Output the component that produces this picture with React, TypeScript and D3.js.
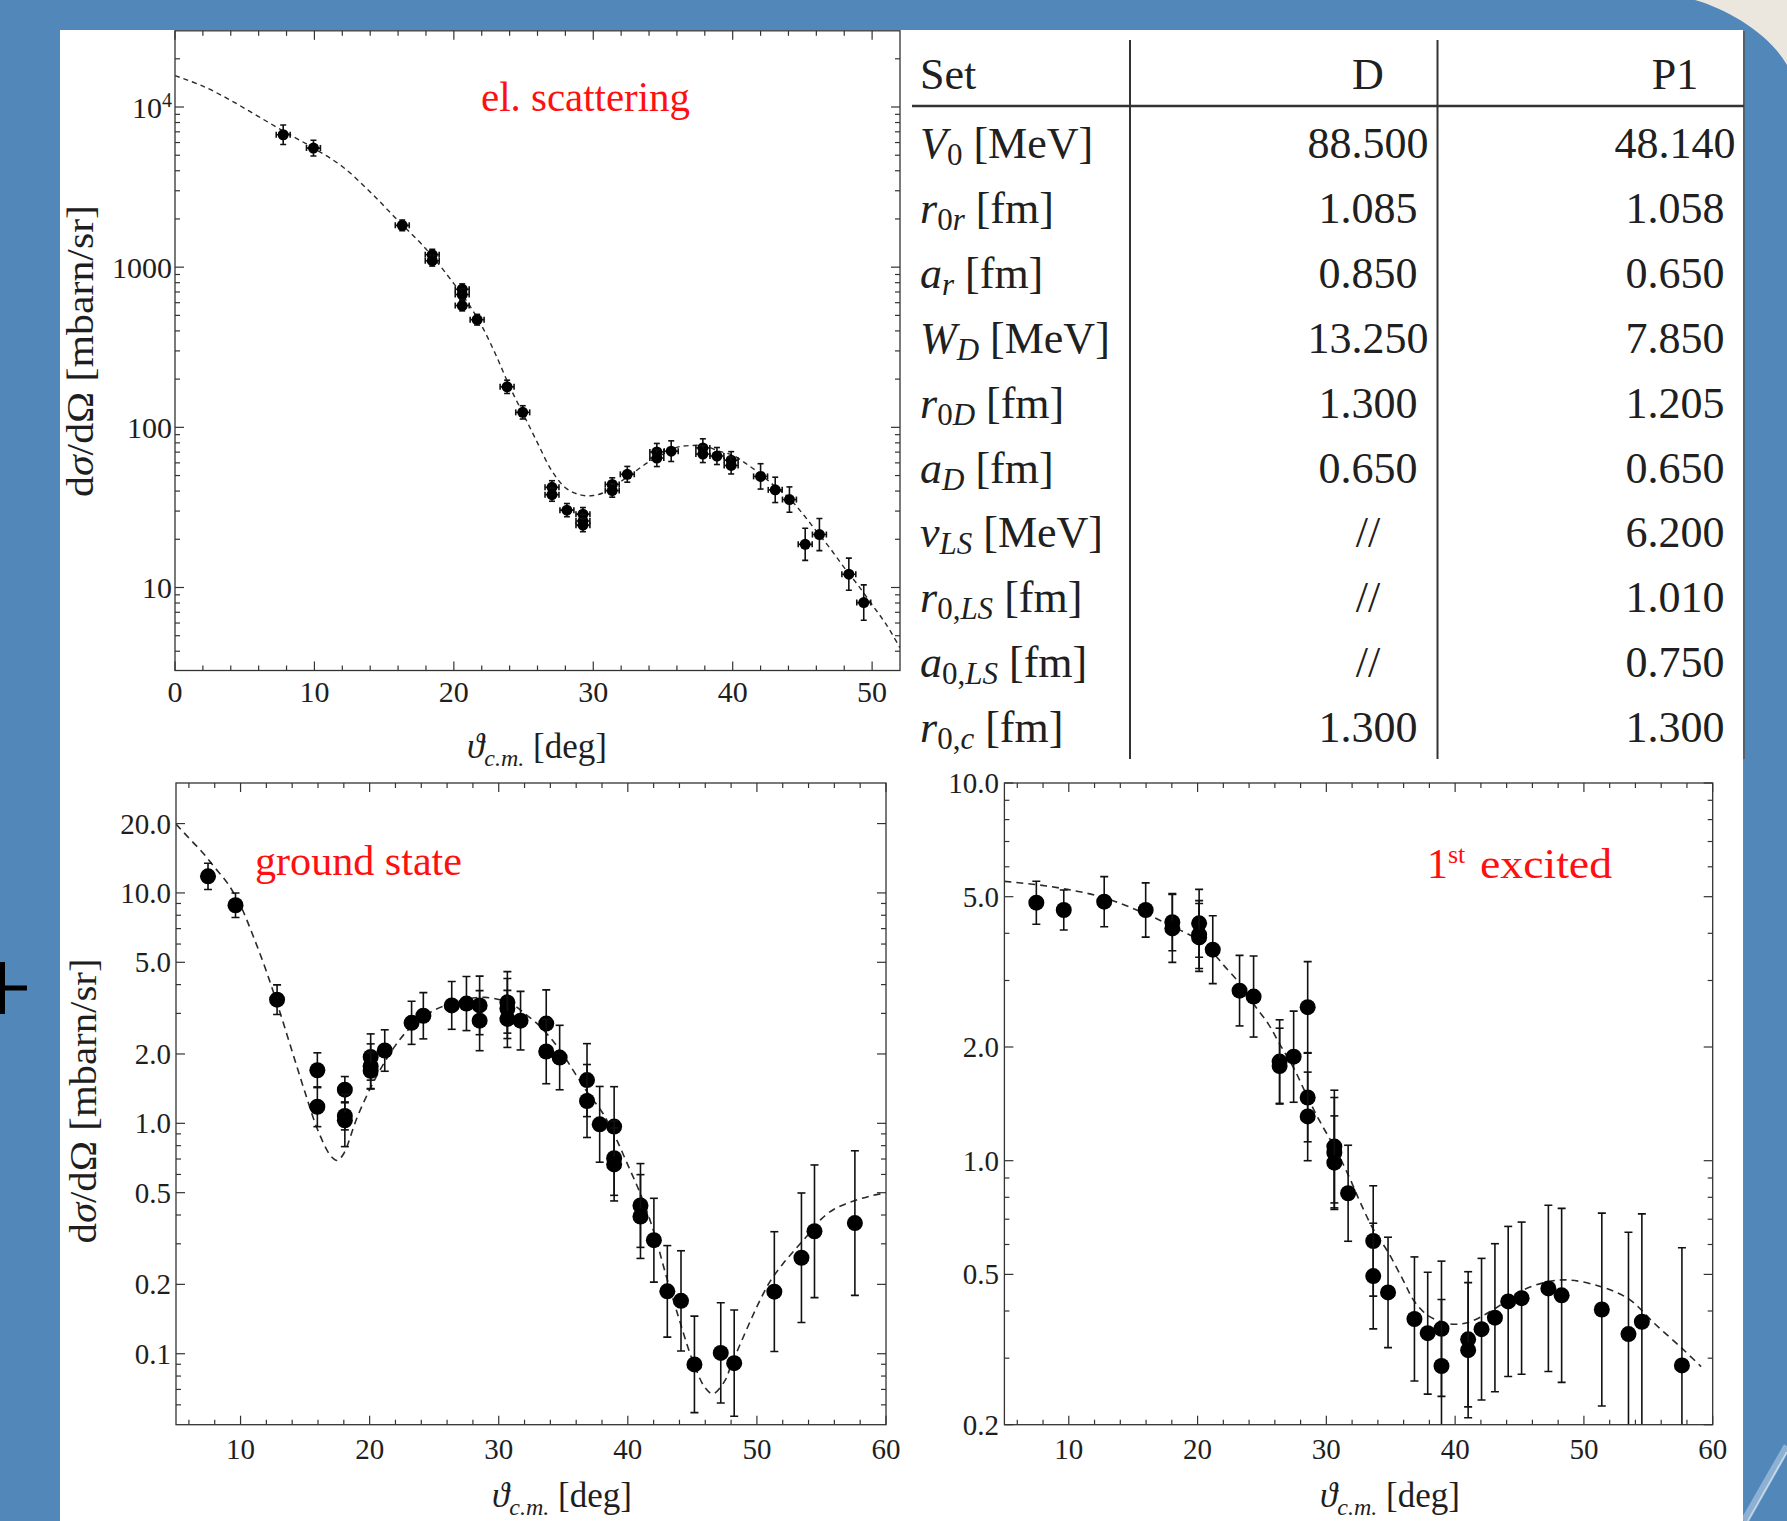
import React from 'react';
import * as d3 from 'd3';

const W = 1787;
const H = 1521;
const BLUE = '#5187b9';
const BEIGE = '#ece7de';
const RED = '#ff1010';
const INK = '#1e1e1e';
const FONT = "'Liberation Serif', 'Times New Roman', 'DejaVu Serif', serif";

// ---- el. scattering (top left) ----
const elAngle = [7.76, 9.93, 16.3, 18.45, 18.45, 20.6, 20.6, 20.6, 21.67, 23.82, 24.94, 27.04, 27.04, 28.11, 29.26, 29.26, 29.26, 31.36, 31.36, 32.44, 34.56, 34.56, 35.59, 37.86, 37.86, 38.87, 39.89, 39.89, 42.0, 43.05, 44.07, 45.2, 46.22, 48.33, 49.4];
const elValue = [6710, 5540, 1824, 1197, 1097, 728, 675, 576, 470, 179, 124, 42.2, 38.0, 30.4, 28.7, 26.0, 24.5, 44.0, 40.3, 50.9, 70.2, 64.3, 71.0, 74.4, 68.1, 66.2, 62.4, 57.8, 49.4, 40.7, 35.4, 18.6, 21.4, 12.1, 8.05];
const elErrFactor = [1.15, 1.12, 1.08, 1.08, 1.08, 1.08, 1.08, 1.08, 1.08, 1.1, 1.1, 1.1, 1.1, 1.1, 1.1, 1.1, 1.1, 1.1, 1.1, 1.12, 1.13, 1.13, 1.16, 1.14, 1.13, 1.13, 1.13, 1.13, 1.2, 1.2, 1.2, 1.26, 1.26, 1.26, 1.29];
const elAngleErr = 0.5;
const elCurveAngle = [0, 2, 4, 6, 8, 10, 12, 14, 16, 18, 20, 21, 22, 23, 24, 25, 26, 27, 28, 29, 30, 31, 32, 33, 34, 35, 36, 37, 38, 39, 40, 41, 42, 43, 44, 45, 46, 47, 48, 49, 50, 51, 52];
const elCurveValue = [15700, 13500, 11000, 8700, 6900, 5500, 4250, 2950, 1950, 1300, 790, 600, 430, 285, 180, 120, 80, 54, 42, 38, 37.5, 40, 46, 53, 61, 68, 75, 77, 76.5, 71, 67, 59, 51, 43, 36.5, 29, 22.5, 17.5, 13.3, 10.3, 7.8, 5.9, 4.2];
const elYTicks = [10, 100, 1000, 10000];
const elYLabels = ['10', '100', '1000', '10^4'];
const elXTicks = [0, 10, 20, 30, 40, 50];

// ---- ground state (bottom left) ----
const gsAngle = [7.48, 9.61, 12.83, 15.95, 15.95, 18.08, 18.08, 18.08, 20.08, 20.08, 20.08, 21.17, 23.25, 24.16, 26.36, 27.5, 28.52, 28.52, 30.67, 30.67, 30.67, 31.69, 33.68, 33.68, 34.72, 36.84, 36.84, 37.82, 38.94, 38.94, 38.94, 40.98, 40.98, 42.02, 43.06, 44.12, 45.16, 47.2, 48.24, 51.35, 53.45, 54.46, 57.59];
const gsValue = [11.8, 8.84, 3.44, 1.7, 1.18, 1.4, 1.077, 1.03, 1.94, 1.77, 1.69, 2.07, 2.73, 2.93, 3.25, 3.31, 3.25, 2.79, 3.35, 3.15, 2.84, 2.79, 2.71, 2.05, 1.93, 1.54, 1.25, 0.99, 0.968, 0.706, 0.663, 0.44, 0.394, 0.311, 0.1865, 0.1696, 0.0899, 0.1008, 0.091, 0.186, 0.261, 0.34, 0.369];
const gsErrFactor = [1.14, 1.13, 1.16, 1.19, 1.22, 1.14, 1.15, 1.3, 1.26, 1.25, 1.2, 1.23, 1.24, 1.26, 1.27, 1.31, 1.34, 1.35, 1.36, 1.35, 1.33, 1.34, 1.4, 1.38, 1.38, 1.44, 1.44, 1.46, 1.49, 1.45, 1.44, 1.52, 1.52, 1.52, 1.58, 1.65, 1.62, 1.65, 1.7, 1.82, 1.91, 1.94, 2.06];
const gsCurveAngle = [5, 6, 7, 8, 9, 10, 11, 12, 13, 14, 15, 16, 17, 17.5, 18, 19, 20, 21, 22, 23, 24, 25, 26, 27, 28, 29, 30, 31, 32, 33, 34, 35, 36, 37, 38, 39, 40, 41, 42, 43, 44, 45, 46, 46.6, 47.5, 48, 49, 50, 51, 52, 53, 54, 55, 56, 57, 58, 59, 60];
const gsCurveValue = [19.9, 17.3, 15.1, 12.9, 11.0, 8.8, 6.45, 4.57, 3.1, 2.05, 1.36, 0.93, 0.72, 0.69, 0.74, 1.05, 1.4, 1.78, 2.18, 2.55, 2.85, 3.1, 3.27, 3.4, 3.5, 3.52, 3.45, 3.3, 3.0, 2.7, 2.35, 1.98, 1.62, 1.33, 1.12, 0.88, 0.66, 0.49, 0.34, 0.215, 0.14, 0.094, 0.071, 0.067, 0.076, 0.089, 0.12, 0.16, 0.205, 0.245, 0.285, 0.33, 0.385, 0.425, 0.45, 0.47, 0.487, 0.499];
const gsYTicks = [20, 10, 5, 2, 1, 0.5, 0.2, 0.1];
const gsYLabels = ['20.0', '10.0', '5.0', '2.0', '1.0', '0.5', '0.2', '0.1'];

// ---- 1st excited (bottom right) ----
const exAngle = [7.48, 9.61, 12.75, 15.97, 18.04, 18.04, 20.12, 20.12, 20.12, 21.18, 23.26, 24.35, 26.37, 26.37, 27.46, 28.55, 28.55, 28.55, 30.62, 30.62, 30.62, 31.69, 33.64, 33.64, 34.79, 36.84, 37.87, 38.94, 38.94, 41.01, 41.01, 42.05, 43.09, 44.12, 45.16, 47.24, 48.27, 51.39, 53.46, 54.5, 57.61];
const exValue = [4.82, 4.61, 4.85, 4.61, 4.28, 4.12, 4.25, 3.97, 3.9, 3.62, 2.82, 2.72, 1.83, 1.78, 1.885, 2.55, 1.47, 1.31, 1.09, 1.05, 0.988, 0.82, 0.613, 0.495, 0.448, 0.381, 0.3495, 0.359, 0.286, 0.3366, 0.315, 0.358, 0.384, 0.424, 0.4326, 0.459, 0.44, 0.4036, 0.3476, 0.3747, 0.287];
const exErrFactor = [1.14, 1.13, 1.165, 1.18, 1.19, 1.23, 1.23, 1.23, 1.23, 1.23, 1.24, 1.28, 1.29, 1.26, 1.32, 1.32, 1.31, 1.31, 1.41, 1.4, 1.33, 1.34, 1.4, 1.38, 1.4, 1.46, 1.45, 1.51, 1.5, 1.51, 1.51, 1.54, 1.57, 1.58, 1.59, 1.66, 1.7, 1.8, 1.86, 1.93, 2.05];
const exCurveAngle = [5, 7.5, 10, 12.75, 16, 18, 20, 21.2, 22, 23.25, 24.35, 25.5, 26.4, 27.5, 28.55, 29.5, 30.6, 31.7, 32.6, 33.6, 34.8, 36, 36.8, 37.9, 39.5, 41, 43, 45, 47.2, 48.9, 51.4, 53.5, 55.5, 57.6, 59.1];
const exCurveValue = [5.49, 5.38, 5.22, 4.97, 4.5, 4.18, 3.85, 3.55, 3.3, 2.95, 2.6, 2.3, 2.03, 1.75, 1.47, 1.27, 1.09, 0.917, 0.78, 0.663, 0.572, 0.48, 0.426, 0.389, 0.37, 0.373, 0.404, 0.45, 0.478, 0.483, 0.463, 0.43, 0.37, 0.319, 0.285];
const exYTicks = [10, 5, 2, 1, 0.5, 0.2];
const exYLabels = ['10.0', '5.0', '2.0', '1.0', '0.5', '0.2'];

const bottomXTicks = [10, 20, 30, 40, 50, 60];

// ---- parameter table ----
const tableHeader = ['Set', 'D', 'P1'];
const tableSymbol = ['V', 'r', 'a', 'W', 'r', 'a', 'v', 'r', 'a', 'r'];
const tableSub = ['0', '0r', 'r', 'D', '0D', 'D', 'LS', '0,LS', '0,LS', '0,c'];
const tableUnit = ['MeV', 'fm', 'fm', 'MeV', 'fm', 'fm', 'MeV', 'fm', 'fm', 'fm'];
const colD = ['88.500', '1.085', '0.850', '13.250', '1.300', '0.650', '//', '//', '//', '1.300'];
const colP1 = ['48.140', '1.058', '0.650', '7.850', '1.205', '0.650', '6.200', '1.010', '0.750', '1.300'];

type PanelProps = {
  id: string;
  left: number; right: number; top: number; bottom: number;
  xDomain: [number, number]; yDomain: [number, number];
  xTicks: number[]; yTicks: number[]; yLabels: string[];
  angle: number[]; value: number[]; errFactor: number[]; angleErr?: number;
  curveAngle: number[]; curveValue: number[];
  r: number; cap: number; dash: string; curveWidth: number;
  tickFont: number; xLabelY: number; yLabelX: number; yLabelDy: number;
};

function tickText(s: string) {
  const [base, exp] = s.split('^');
  if (!exp) return s;
  return (
    <>
      {base}
      <tspan dy={-11} fontSize={20}>{exp}</tspan>
    </>
  );
}

function Panel(p: PanelProps) {
  const x = d3.scaleLinear().domain(p.xDomain).range([p.left, p.right]);
  const y = d3.scaleLog().domain(p.yDomain).range([p.bottom, p.top]);
  const majorLen = 9;
  const minorLen = 5;

  // log minor ticks: 1..9 x 10^e, minus the labelled ones
  const isMajor = (v: number) => p.yTicks.some((t) => Math.abs(v / t - 1) < 1e-6);
  const e0 = Math.floor(Math.log10(p.yDomain[0]));
  const e1 = Math.ceil(Math.log10(p.yDomain[1]));
  const yMinor = d3
    .range(e0, e1 + 1)
    .flatMap((e) => d3.range(1, 10).map((k) => k * Math.pow(10, e)))
    .filter((v) => !isMajor(v) && y(v) < p.bottom - 2 && y(v) > p.top + 2);
  const xMinor = d3
    .range(Math.ceil(p.xDomain[0] / 2) * 2, p.xDomain[1], 2)
    .filter((v) => v % 10 !== 0 && v > p.xDomain[0]);

  const line = d3
    .line<[number, number]>()
    .x((d) => x(d[0]))
    .y((d) => y(d[1]))
    .curve(d3.curveCatmullRom.alpha(0.5));
  const curvePath = line(p.curveAngle.map((a, i) => [a, p.curveValue[i]] as [number, number])) || '';

  const tick = (v: number, len: number, axis: 'x' | 'y', k: string) =>
    axis === 'x' ? (
      <g key={k}>
        <line x1={x(v)} x2={x(v)} y1={p.bottom} y2={p.bottom - len} />
        <line x1={x(v)} x2={x(v)} y1={p.top} y2={p.top + len} />
      </g>
    ) : (
      <g key={k}>
        <line x1={p.left} x2={p.left + len} y1={y(v)} y2={y(v)} />
        <line x1={p.right} x2={p.right - len} y1={y(v)} y2={y(v)} />
      </g>
    );

  return (
    <g>
      <defs>
        <clipPath id={p.id}>
          <rect x={p.left} y={p.top} width={p.right - p.left} height={p.bottom - p.top} />
        </clipPath>
      </defs>
      <g clipPath={`url(#${p.id})`}>
        <path d={curvePath} fill="none" stroke="#2a2a2a" strokeWidth={p.curveWidth} strokeDasharray={p.dash} />
        <g stroke="#111" strokeWidth={1.6} fill="#000">
          {p.angle.map((a, i) => {
            const v = p.value[i];
            const f = p.errFactor[i];
            const cx = x(a);
            const cy = y(v);
            const yHi = y(v * f);
            const yLo = y(v / f);
            return (
              <g key={i}>
                <line x1={cx} x2={cx} y1={yHi} y2={yLo} />
                <line x1={cx - p.cap} x2={cx + p.cap} y1={yHi} y2={yHi} />
                <line x1={cx - p.cap} x2={cx + p.cap} y1={yLo} y2={yLo} />
                {p.angleErr ? (
                  <>
                    <line x1={x(a - p.angleErr)} x2={x(a + p.angleErr)} y1={cy} y2={cy} />
                    <line x1={x(a - p.angleErr)} x2={x(a - p.angleErr)} y1={cy - p.cap} y2={cy + p.cap} />
                    <line x1={x(a + p.angleErr)} x2={x(a + p.angleErr)} y1={cy - p.cap} y2={cy + p.cap} />
                  </>
                ) : null}
                <circle cx={cx} cy={cy} r={p.r} stroke="none" />
              </g>
            );
          })}
        </g>
      </g>
      <rect x={p.left} y={p.top} width={p.right - p.left} height={p.bottom - p.top} fill="none" stroke="#333" strokeWidth={1.3} />
      <g stroke="#333" strokeWidth={1.2}>
        {p.xTicks.map((v, i) => tick(v, majorLen, 'x', 'xM' + i))}
        {xMinor.map((v, i) => tick(v, minorLen, 'x', 'xm' + i))}
        {p.yTicks.map((v, i) => tick(v, majorLen, 'y', 'yM' + i))}
        {yMinor.map((v, i) => tick(v, minorLen, 'y', 'ym' + i))}
      </g>
      <g fontSize={p.tickFont} fill={INK}>
        {p.xTicks.map((v) => (
          <text key={v} x={x(v)} y={p.xLabelY} textAnchor="middle">
            {String(v)}
          </text>
        ))}
        {p.yTicks.map((v, i) => (
          <text key={v} x={p.yLabelX} y={y(v) + p.yLabelDy} textAnchor="end">
            {tickText(p.yLabels[i])}
          </text>
        ))}
      </g>
    </g>
  );
}

function XTitle({ cx, y }: { cx: number; y: number }) {
  return (
    <text x={cx} y={y} textAnchor="middle" fontSize={35} fill={INK}>
      <tspan fontStyle="italic">ϑ</tspan>
      <tspan fontStyle="italic" fontSize={24} dy={8}>c.m.</tspan>
      <tspan fontSize={35} dy={-8}>{'\u00a0[deg]'}</tspan>
    </text>
  );
}

function YTitle({ x, cy, len }: { x: number; cy: number; len: number }) {
  return (
    <text
      transform={`translate(${x},${cy}) rotate(-90)`}
      textAnchor="middle"
      fontSize={37}
      fill={INK}
      textLength={len}
      lengthAdjust="spacingAndGlyphs"
    >
      d<tspan fontStyle="italic">σ</tspan>/dΩ [mbarn/sr]
    </text>
  );
}

function subRuns(s: string) {
  return (s.match(/[A-Za-z]+|[^A-Za-z]+/g) || []).map((r, i) => (
    <tspan key={i} fontStyle={/[A-Za-z]/.test(r) ? 'italic' : 'normal'}>
      {r}
    </tspan>
  ));
}

function ParamTable() {
  const rowY = (i: number) => 158 + i * 64.9;
  const colX = [920, 1368, 1675];
  return (
    <g fontSize={44} fill="#202020">
      <text x={colX[0]} y={88.5}>{tableHeader[0]}</text>
      <text x={colX[1]} y={88.5} textAnchor="middle">{tableHeader[1]}</text>
      <text x={colX[2]} y={88.5} textAnchor="middle">{tableHeader[2]}</text>
      <line x1={912} x2={1744} y1={106} y2={106} stroke="#333" strokeWidth={2.5} />
      <line x1={1130} x2={1130} y1={40} y2={759} stroke="#333" strokeWidth={2} />
      <line x1={1437.5} x2={1437.5} y1={40} y2={759} stroke="#333" strokeWidth={2} />
      {tableSymbol.map((sym, i) => (
        <g key={i}>
          <text x={colX[0]} y={rowY(i)}>
            <tspan fontStyle="italic">{sym}</tspan>
            <tspan fontSize={31} dy={7}>{subRuns(tableSub[i])}</tspan>
            <tspan fontSize={44} dy={-7}>{'\u00a0[' + tableUnit[i] + ']'}</tspan>
          </text>
          <text x={colX[1]} y={rowY(i)} textAnchor="middle">{colD[i]}</text>
          <text x={colX[2]} y={rowY(i)} textAnchor="middle">{colP1[i]}</text>
        </g>
      ))}
    </g>
  );
}

export default function App() {
  return (
    <svg
      width={W}
      height={H}
      viewBox={`0 0 ${W} ${H}`}
      style={{ position: 'absolute', left: 0, top: 0, display: 'block' }}
      fontFamily={FONT}
    >
      <rect width={W} height={H} fill={BLUE} />
      <path d="M1695,0 C1730,10 1770,35 1787,65 L1787,0 Z" fill={BEIGE} />
      <line x1={1744} y1={1521} x2={1787} y2={1446} stroke="#d4e4f3" strokeWidth={7} opacity={0.45} />
      <line x1={1748} y1={1521} x2={1787} y2={1452} stroke="#eef5fb" strokeWidth={2} opacity={0.6} />

      <rect x={0} y={962} width={5} height={52} fill="#000" />
      <rect x={0} y={985.5} width={27} height={5} fill="#000" />

      <rect x={60} y={30} width={1683} height={H - 30} fill="#fff" />
      <line x1={1744} x2={1744} y1={31} y2={759} stroke="#555" strokeWidth={1.5} />

      <Panel
        id="clipEl"
        left={175}
        right={900}
        top={30.8}
        bottom={670.5}
        xDomain={[0, 52]}
        yDomain={[3.032, 29910]}
        xTicks={elXTicks}
        yTicks={elYTicks}
        yLabels={elYLabels}
        angle={elAngle}
        value={elValue}
        errFactor={elErrFactor}
        angleErr={elAngleErr}
        curveAngle={elCurveAngle}
        curveValue={elCurveValue}
        r={5.5}
        cap={3}
        dash="5 4"
        curveWidth={1.4}
        tickFont={30}
        xLabelY={701.5}
        yLabelX={172}
        yLabelDy={11}
      />
      <YTitle x={93} cy={351} len={292} />
      <XTitle cx={537} y={758} />
      <text x={481} y={111} fontSize={42} fill={RED} textLength={209} lengthAdjust="spacingAndGlyphs">
        el. scattering
      </text>

      <ParamTable />

      <Panel
        id="clipGs"
        left={176}
        right={886}
        top={783}
        bottom={1424.7}
        xDomain={[5, 60]}
        yDomain={[0.0492, 30]}
        xTicks={bottomXTicks}
        yTicks={gsYTicks}
        yLabels={gsYLabels}
        angle={gsAngle}
        value={gsValue}
        errFactor={gsErrFactor}
        curveAngle={gsCurveAngle}
        curveValue={gsCurveValue}
        r={8}
        cap={4}
        dash="7 5"
        curveWidth={1.6}
        tickFont={29}
        xLabelY={1459}
        yLabelX={171}
        yLabelDy={10}
      />
      <YTitle x={96} cy={1101} len={285} />
      <XTitle cx={562} y={1507} />
      <text x={255} y={875} fontSize={42} fill={RED} textLength={207} lengthAdjust="spacingAndGlyphs">
        ground state
      </text>

      <Panel
        id="clipEx"
        left={1004.4}
        right={1712.7}
        top={783}
        bottom={1424.7}
        xDomain={[5, 60]}
        yDomain={[0.2, 10]}
        xTicks={bottomXTicks}
        yTicks={exYTicks}
        yLabels={exYLabels}
        angle={exAngle}
        value={exValue}
        errFactor={exErrFactor}
        curveAngle={exCurveAngle}
        curveValue={exCurveValue}
        r={8}
        cap={4}
        dash="7 5"
        curveWidth={1.6}
        tickFont={29}
        xLabelY={1459}
        yLabelX={999}
        yLabelDy={10}
      />
      <XTitle cx={1390} y={1507} />
      <text x={1427} y={878} fontSize={42} fill={RED}>
        1<tspan fontSize={26} dy={-15}>st</tspan>
      </text>
      <text x={1480} y={878} fontSize={42} fill={RED} textLength={132} lengthAdjust="spacingAndGlyphs">
        excited
      </text>
    </svg>
  );
}
